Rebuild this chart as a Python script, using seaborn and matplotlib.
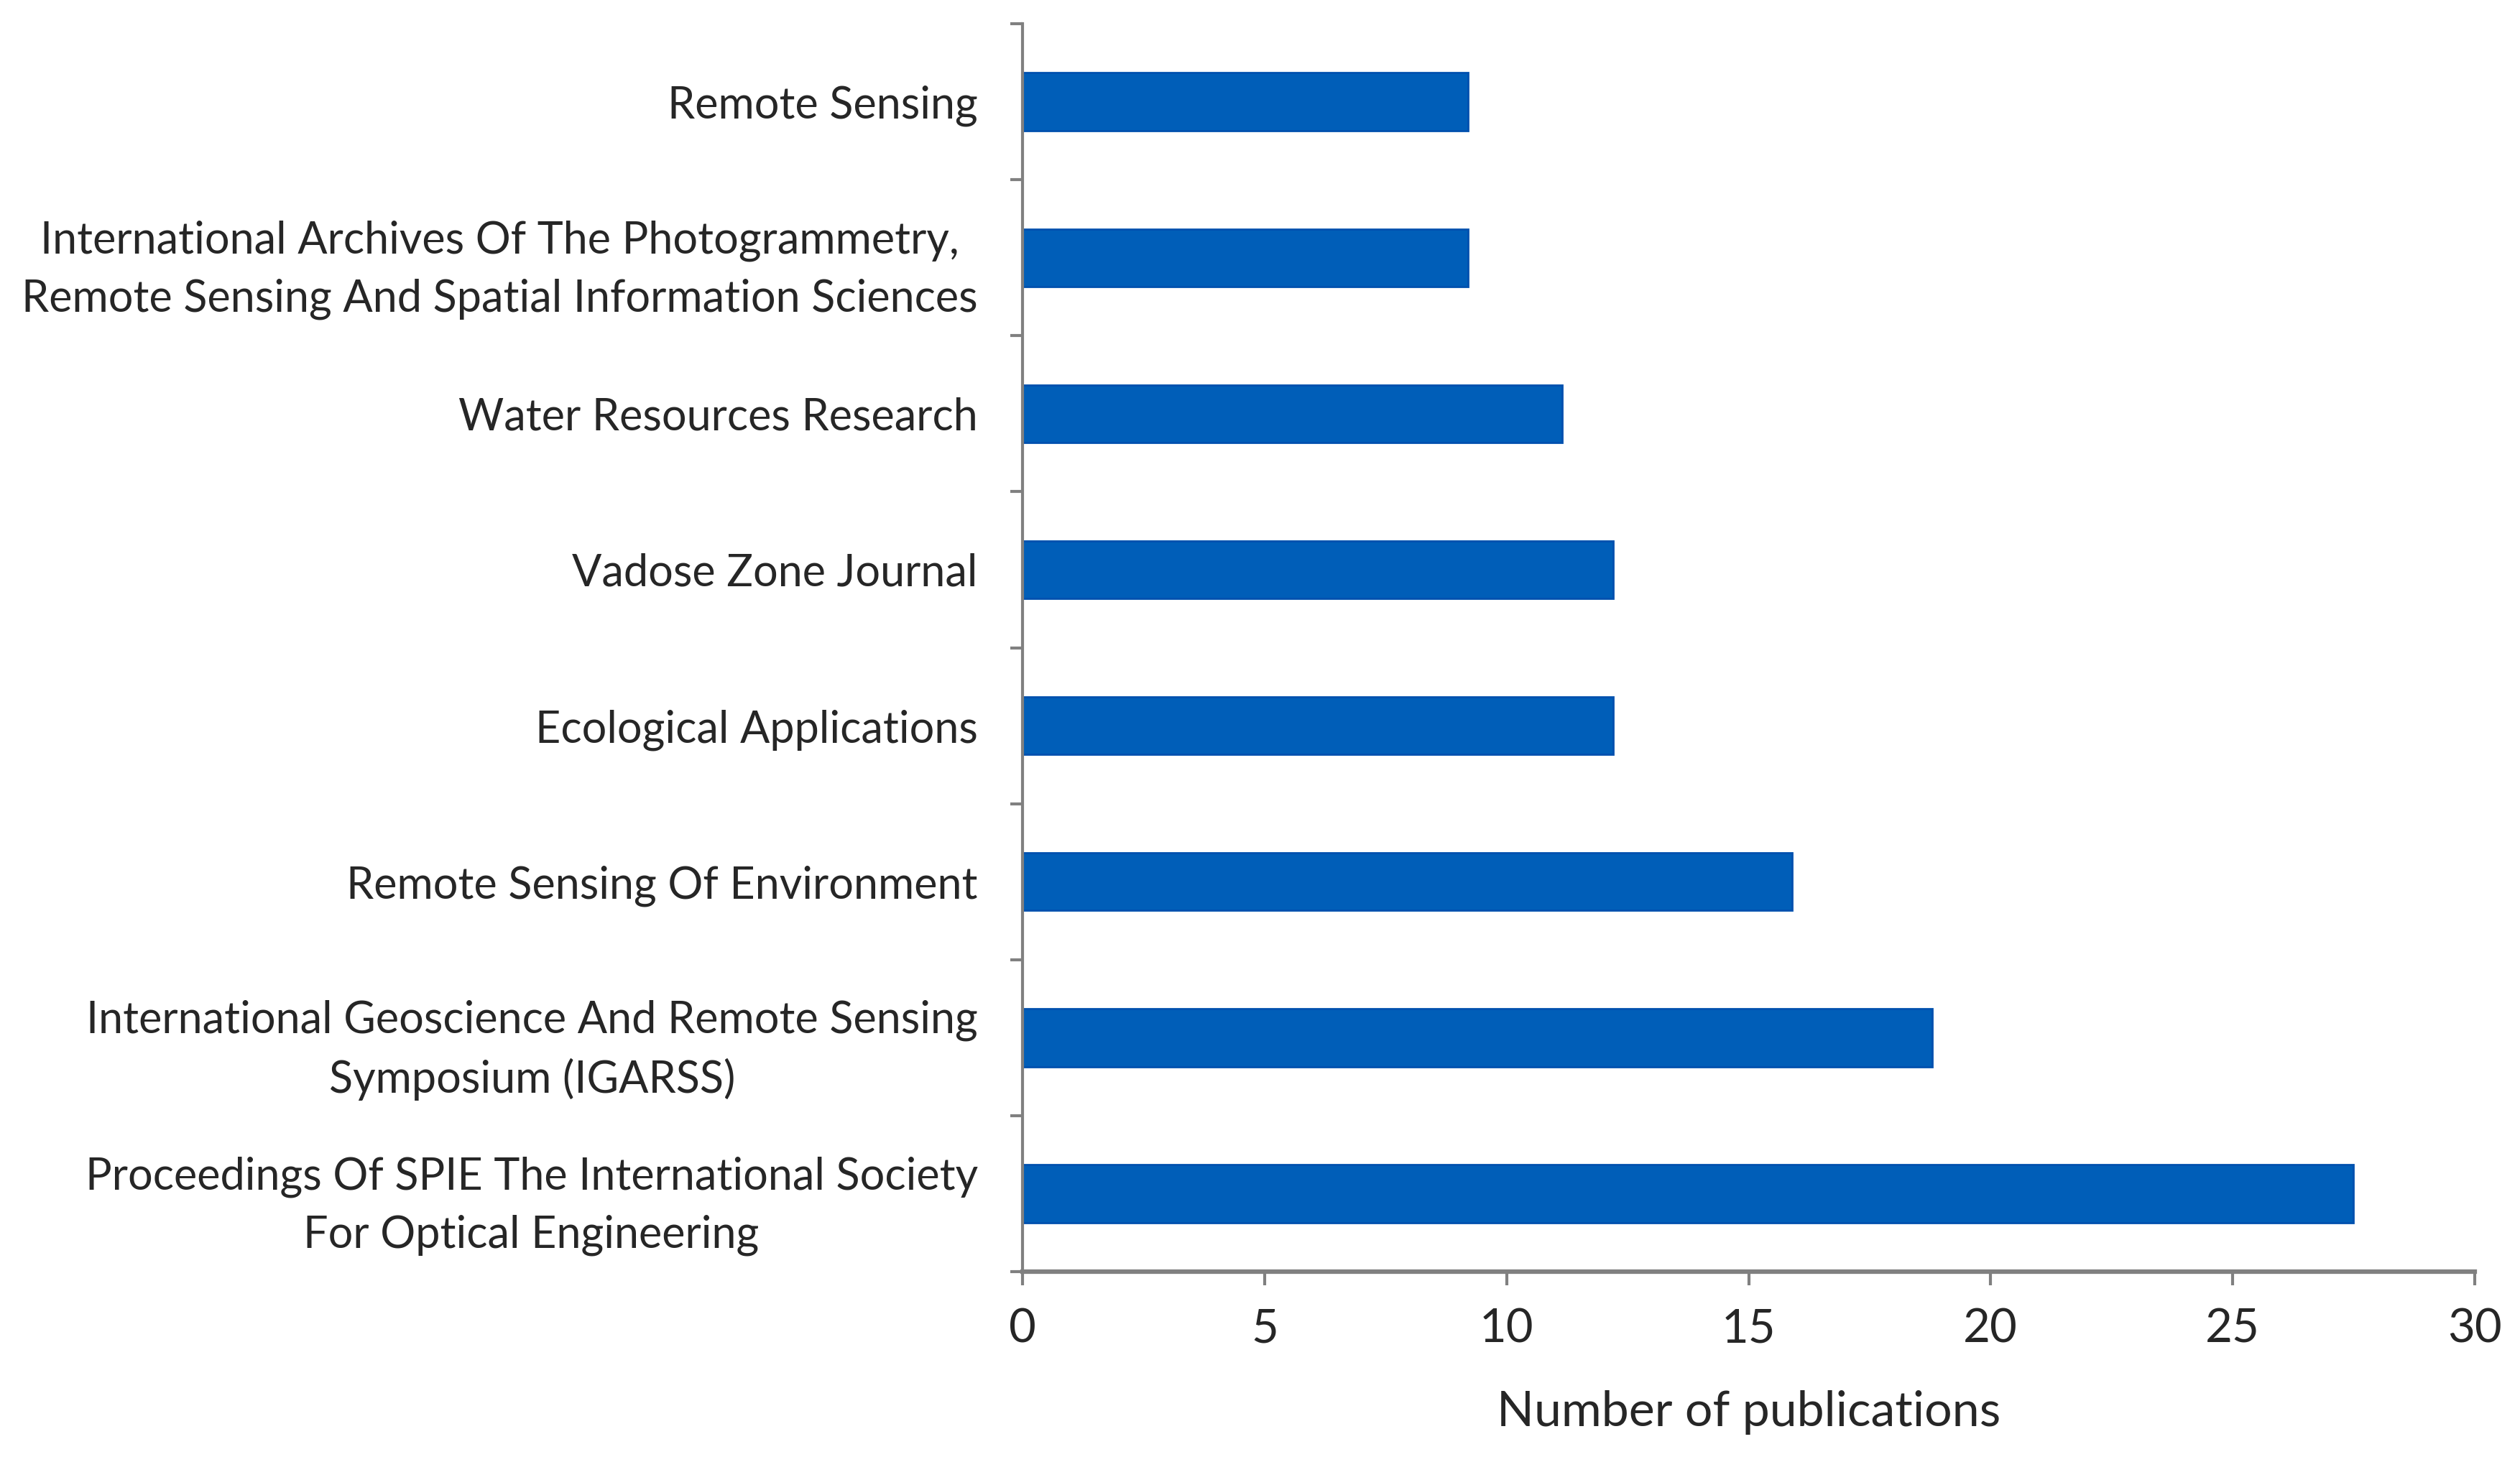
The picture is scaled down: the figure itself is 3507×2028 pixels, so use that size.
import matplotlib
matplotlib.use('Agg')
import matplotlib.pyplot as plt
import seaborn as sns
import pandas as pd
import numpy as np

# journals, top to bottom
journals = ['Remote Sensing',
            'International Archives Of The Photogrammetry,\nRemote Sensing And Spatial Information Sciences',
            'Water Resources Research',
            'Vadose Zone Journal',
            'Ecological Applications',
            'Remote Sensing Of Environment',
            'International Geoscience And Remote Sensing\nSymposium (IGARSS)',
            'Proceedings Of SPIE The International Society\nFor Optical Engineering']
pubs = [9.2, 9.2, 11.15, 12.2, 12.2, 15.9, 18.8, 27.5]
xticks = [0, 5, 10, 15, 20, 25, 30]

df = pd.DataFrame({'journal': journals, 'pubs': pubs})

sns.set_style('white')
plt.rcParams['font.family'] = ['Lato', 'DejaVu Sans']

fig = plt.figure(figsize=(35.07, 20.28), dpi=100)
ax = fig.add_axes([0.4058, 0.1272, 0.5762, 0.8565])

sns.barplot(data=df, x='pubs', y='journal', orient='h', color='#005EB8',
            width=0.37, edgecolor='#0050AE', linewidth=2, saturation=1, ax=ax)

ax.set_xlim(0, 30)
ax.set_ylim(7.5, -0.5)
ax.set_xticks(xticks)
ax.set_xticklabels([str(t) for t in xticks], fontsize=47)

# ticks at category boundaries, labels at centres
ax.set_yticks(np.arange(-0.5, 8.0, 1.0))
ax.set_yticklabels([])
ax.set_yticks(np.arange(len(journals)), minor=True)
ax.set_yticklabels(journals, minor=True, fontsize=44, multialignment='center',
                   linespacing=1.5)
ax.tick_params(axis='y', which='major', direction='out', length=12, width=3,
               color='#808080', left=True)
ax.tick_params(axis='y', which='minor', length=0, pad=45)
ax.tick_params(axis='x', direction='out', length=14, width=3, color='#808080',
               bottom=True, pad=22)

ax.set_ylabel('')
ax.set_xlabel('Number of publications', fontsize=49, labelpad=40)

for s in ['top', 'right']:
    ax.spines[s].set_visible(False)
ax.spines['left'].set_color('#808080')
ax.spines['left'].set_linewidth(3)
ax.spines['bottom'].set_color('#808080')
ax.spines['bottom'].set_linewidth(4.5)

fig.savefig('out.png', dpi=100, facecolor='white')
